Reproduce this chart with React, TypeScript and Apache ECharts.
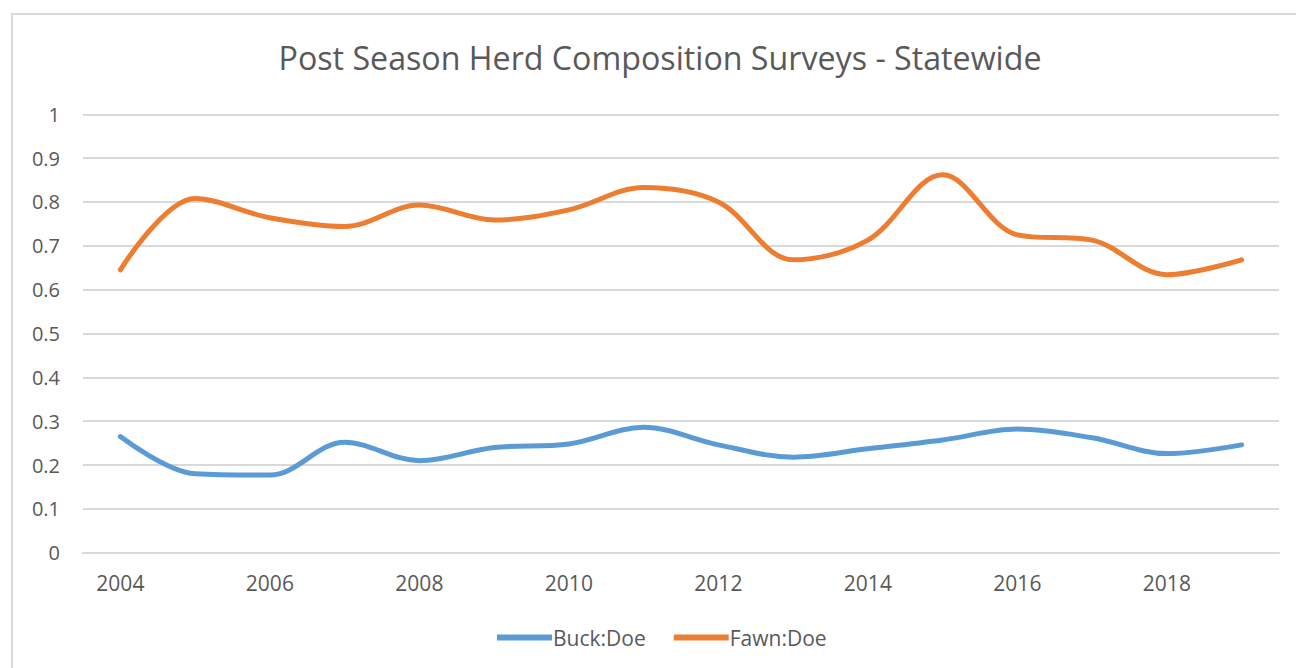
import React, { useEffect, useRef } from "react";
import * as echarts from "echarts";

const years = ["2004","2005","2006","2007","2008","2009","2010","2011","2012","2013","2014","2015","2016","2017","2018","2019"];
const buckDoe = [0.265,0.18,0.177,0.252,0.21,0.24,0.248,0.286,0.246,0.218,0.237,0.257,0.282,0.262,0.226,0.246];
const fawnDoe = [0.645,0.808,0.764,0.744,0.793,0.759,0.782,0.833,0.8,0.668,0.713,0.862,0.725,0.713,0.634,0.668];
const titleText = "Post Season Herd Composition Surveys - Statewide";
const FONT = "'Open Sans', sans-serif";
const TEXT = "#595959";

export default function App() {
  const ref = useRef<HTMLDivElement>(null);
  useEffect(() => {
    if (!ref.current) return;
    const chart = echarts.init(ref.current, null, { renderer: "svg" });
    chart.setOption({
      animation: false,
      backgroundColor: "#ffffff",
      title: {
        text: titleText,
        left: 660,
        top: 41,
        textAlign: "center",
        padding: 0,
        textStyle: { fontFamily: FONT, fontSize: 32.2, fontWeight: "normal", color: TEXT },
      },
      graphic: [
        {
          type: "rect",
          shape: { x: 12, y: 14, width: 1400, height: 800 },
          style: { fill: "none", stroke: "#d9d9d9", lineWidth: 2 },
          silent: true,
        },
      ],
      legend: {
        left: 497,
        top: 627,
        padding: 0,
        itemWidth: 55,
        itemHeight: 6,
        itemGap: 28,
        icon: "rect",
        textStyle: { fontFamily: FONT, fontSize: 21, color: TEXT, padding: [0, 0, 0, -4] },
        data: ["Buck:Doe", "Fawn:Doe"],
      },
      grid: { left: 83, right: 17, top: 114.3, bottom: 115.3, containLabel: false },
      xAxis: {
        type: "category",
        data: years,
        boundaryGap: true,
        axisLine: { show: true, lineStyle: { color: "#d9d9d9", width: 2 } },
        axisTick: { show: false },
        axisLabel: { interval: 1, margin: 20, fontFamily: FONT, fontSize: 21, color: TEXT },
      },
      yAxis: {
        type: "value",
        min: 0,
        max: 1,
        interval: 0.1,
        axisLine: { show: false },
        axisTick: { show: false },
        axisLabel: { margin: 23, fontFamily: FONT, fontSize: 20, color: TEXT },
        splitLine: { lineStyle: { color: "#d9d9d9", width: 2 } },
      },
      series: [
        {
          name: "Buck:Doe",
          type: "line",
          data: buckDoe,
          smooth: 0.35,
          showSymbol: false,
          symbol: "none",
          itemStyle: { color: "#5B9BD5" },
          lineStyle: { color: "#5B9BD5", width: 5, cap: "round" },
        },
        {
          name: "Fawn:Doe",
          type: "line",
          data: fawnDoe,
          smooth: 0.35,
          showSymbol: false,
          symbol: "none",
          itemStyle: { color: "#ED7D31" },
          lineStyle: { color: "#ED7D31", width: 5, cap: "round" },
        },
      ],
    });
    return () => chart.dispose();
  }, []);
  return (
    <div
      ref={ref}
      style={{ position: "absolute", left: 0, top: 0, width: 1296, height: 668 }}
    />
  );
}
